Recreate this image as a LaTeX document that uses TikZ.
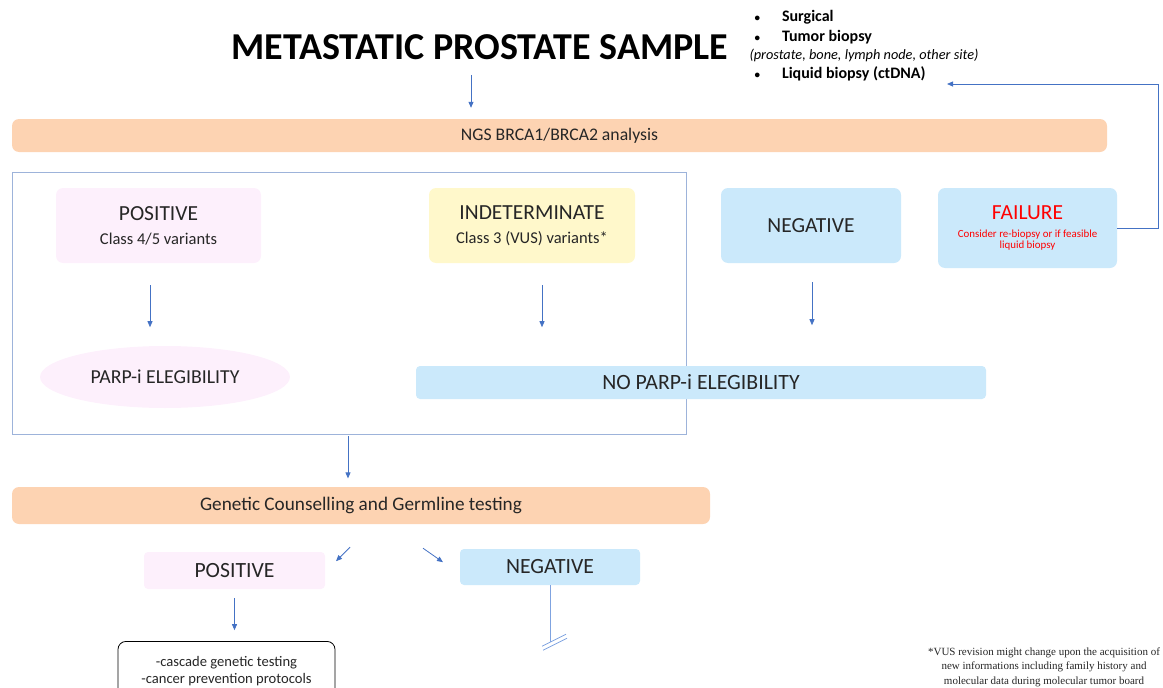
\documentclass[tikz,border=0pt]{standalone}
\usepackage{fontspec}
\setmainfont{Carlito}
\newfontfamily\notefont{Liberation Serif}
\usetikzlibrary{arrows.meta,shapes.geometric}

\definecolor{peach}{HTML}{FDD3B2}
\definecolor{blush}{HTML}{FDF0FC}
\definecolor{lemon}{HTML}{FFF8CB}
\definecolor{sky}{HTML}{CBE9FB}
\definecolor{flowblue}{HTML}{4472C4}
\definecolor{paleblue}{HTML}{7FA3E0}
\definecolor{framecol}{HTML}{9DB3DA}
\definecolor{ink}{HTML}{262626}

\newcommand{\fs}[2]{\fontsize{#1}{#2}\selectfont}
\newcommand{\dotitem}{{\fs{11}{13}\textbullet}\hspace{22pt}}

\tikzset{
	box/.style={rectangle, rounded corners=7pt, inner sep=0pt, align=center, text=ink},
	bar/.style={box, fill=peach},
	flow/.style={-{Triangle[length=6pt,width=5pt]}, flowblue, line width=0.8pt},
}

\begin{document}
\begin{tikzpicture}[x=1pt,y=-1pt]

		\useasboundingbox (0,0) rectangle (1163,688);
		\clip (0,0) rectangle (1163,688);
		
		% title and sample sites
		\node[text=black, font=\fs{38}{44}\bfseries] (title) at (480,47) {METASTATIC PROSTATE SAMPLE};
		\node[anchor=west, font=\fs{16}{19}\bfseries] (s1) at (751,17) {\dotitem Surgical};
		\node[anchor=west, font=\fs{16}{19}\bfseries] (s2) at (751,37) {\dotitem Tumor biopsy};
		\node[anchor=west, font=\fs{14.3}{17}\itshape] (s3) at (746,55) {(prostate, bone, lymph node, other site)};
		\node[anchor=west, font=\fs{16}{19}\bfseries] (s4) at (751,74) {\dotitem Liquid biopsy (ctDNA)};
		\coordinate (back) at (947,84);
		\coordinate (turn) at (1158,84);
		
		\node[bar, minimum width=1095, minimum height=33, font=\fs{17.7}{21}] (ngs) at (559.5,135.5) {NGS BRCA1/BRCA2 analysis};
		
		% somatic result
		\node[draw=framecol, line width=0.8pt, minimum width=674, minimum height=262] (zone) at (349,303) {};
		\node[box, fill=blush, minimum width=205, minimum height=75, font=\fs{16.5}{24}] (pos) at (158.5,225.5)
			{\fs{21.5}{24}POSITIVE\\\fs{16.5}{24}Class 4/5 variants};
		\node[box, fill=lemon, minimum width=206, minimum height=75, font=\fs{16.5}{24}] (indet) at (532,225.5)
			{\fs{21.5}{24}INDETERMINATE\\\fs{16.5}{24}Class 3 (VUS) variants*};
		\node[box, fill=sky, minimum width=180, minimum height=75, font=\fs{21.5}{24}] (neg) at (811,225.5) {NEGATIVE};
		\node[box, fill=sky, minimum width=179, minimum height=80, text=red, font=\fs{10.9}{11.5}] (fail) at (1027.5,228)
			{\fs{21.5}{22}FAILURE\\[6pt]\fs{10.9}{11.5}Consider re-biopsy or if feasible\\liquid biopsy};
		
		\node[ellipse, fill=blush, minimum width=250, minimum height=62, inner sep=0pt, text=ink, font=\fs{19.8}{23}] (parp) at (165,377) {PARP-i ELEGIBILITY};
		\node[box, rounded corners=4pt, fill=sky, minimum width=570, minimum height=33, font=\fs{21.8}{25}] (noparp) at (701,382.5) {NO PARP-i ELEGIBILITY};
		
		\draw[flow] (ngs.north) ++(-88.5,-44) -- ++(0,33);
		\draw[flow] (pos.south) ++(-8.5,22) -- ++(0,42);
		\draw[flow] (indet.south) ++(10,22) -- ++(0,42);
		\draw[flow] (neg.south) ++(1,19) -- ++(0,43);
		\draw[flow] (fail.east) -| (turn) -- (back);
		
		% germline
		\node[bar, minimum width=698, minimum height=37, font=\fs{19.2}{23}] (gc) at (361,505.5) {Genetic Counselling and Germline testing};
		\draw[flow] (zone.south) ++(-1,2) -- ++(0,42);
		
		\node[box, rounded corners=4pt, fill=blush, minimum width=181, minimum height=37, font=\fs{21.7}{25}] (pos2) at (234.5,570.5) {POSITIVE};
		\node[box, rounded corners=4pt, fill=sky, minimum width=180, minimum height=36, font=\fs{21.7}{25}] (neg2) at (550,567) {NEGATIVE};
		\draw[flow] (gc.south) ++(-11,23) -- ++(-14,14);
		\draw[flow] (gc.south) ++(62,24) -- ++(20,14);
		
		\node[box, draw=black, line width=0.8pt, rounded corners=8pt, minimum width=217, minimum height=60, anchor=north, font=\fs{14.6}{17}] (care) at (226.5,641)
			{-cascade genetic testing\\-cancer prevention protocols};
		\draw[flow] (pos2.south) ++(0,9) -- ++(0,32);
		
		\draw[paleblue, line width=0.8pt] (neg2.south) -- ++(0,57);
		\draw[paleblue, line width=0.8pt] (neg2.south) ++(-8,61) -- ++(24,-12);
		\draw[paleblue, line width=0.8pt] (neg2.south) ++(-7,65) -- ++(24,-12);
		
		% footnote
		\node[align=center, font=\notefont\fs{11}{14.5}, text=ink] (note) at (1044,667)
			{*VUS revision might change upon the acquisition of\\new informations including family history and\\molecular data during molecular tumor board};

\end{tikzpicture}
\end{document}
